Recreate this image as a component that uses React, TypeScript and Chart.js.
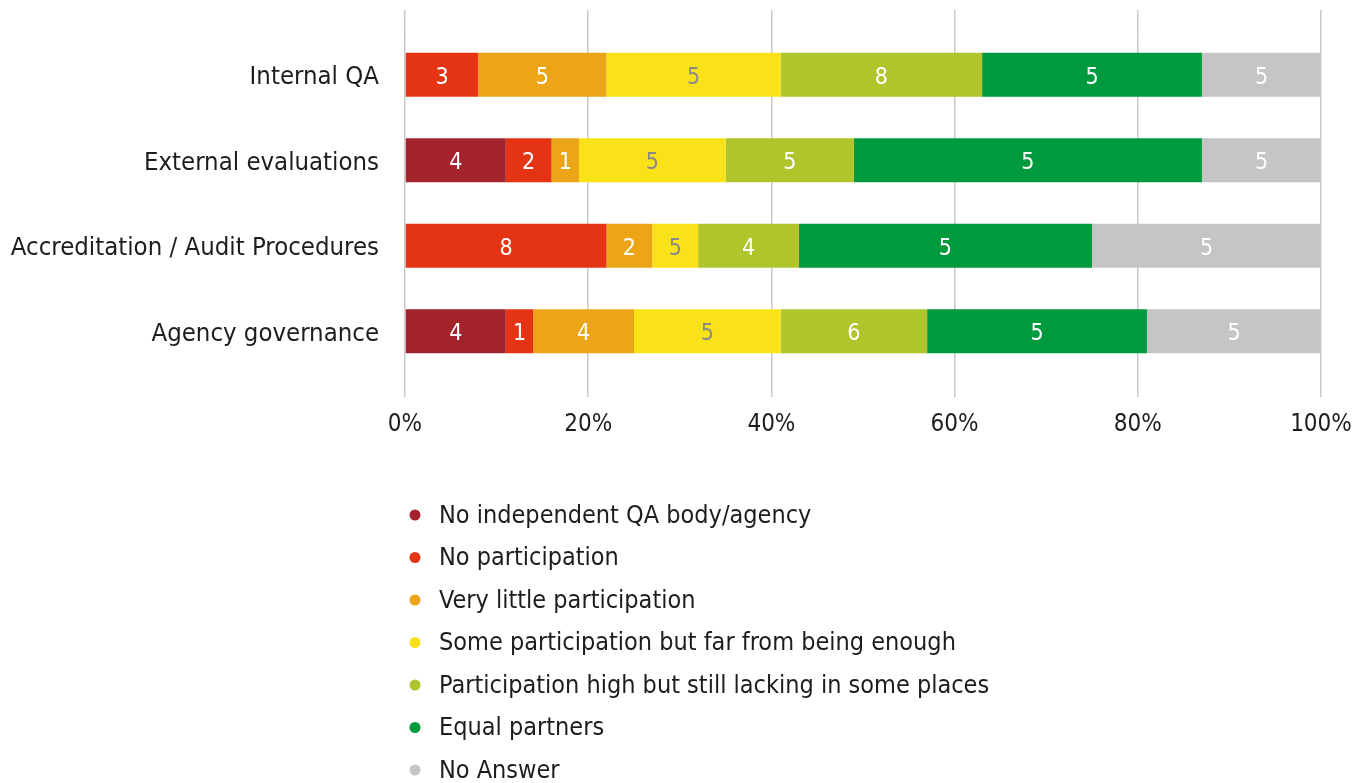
import React, { useEffect, useRef } from 'react';
import { Chart, registerables } from 'chart.js';

Chart.register(...registerables);

const categories = ['Internal QA', 'External evaluations', 'Accreditation / Audit Procedures', 'Agency governance'];

const seriesNames = [
  'No independent QA body/agency',
  'No participation',
  'Very little participation',
  'Some participation but far from being enough',
  'Participation high but still lacking in some places',
  'Equal partners',
  'No Answer',
];

// share of bar (%) per category, in category order
const noIndependent = [0, 11, 0, 11];
const noParticipation = [8, 5, 22, 3];
const veryLittle = [14, 3, 5, 11];
const someParticipation = [19, 16, 5, 16];
const highParticipation = [22, 14, 11, 16];
const equalPartners = [24, 38, 32, 24];
const noAnswer = [13, 13, 25, 19];

// numbers printed inside the segments
const noIndependentLabels = ['', '4', '', '4'];
const noParticipationLabels = ['3', '2', '8', '1'];
const veryLittleLabels = ['5', '1', '2', '4'];
const someParticipationLabels = ['5', '5', '5', '5'];
const highParticipationLabels = ['8', '5', '4', '6'];
const equalPartnersLabels = ['5', '5', '5', '5'];
const noAnswerLabels = ['5', '5', '5', '5'];

const xTicks = [0, 20, 40, 60, 80, 100];

const colors = ['#a3222b', '#e43414', '#eca517', '#f9e217', '#b0c42c', '#009a3e', '#c5c5c5'];
const labelColors = ['#ffffff', '#ffffff', '#ffffff', '#8a8a8a', '#ffffff', '#ffffff', '#ffffff'];

const FONT = "'Liberation Sans Narrow', 'DejaVu Sans Condensed', 'Liberation Sans', sans-serif";
const TEXT = '#1d1d1b';
const GRID = '#c9c9c9';
const GRID_W = 1.5;

const values = [noIndependent, noParticipation, veryLittle, someParticipation, highParticipation, equalPartners, noAnswer];
const segLabels = [
  noIndependentLabels,
  noParticipationLabels,
  veryLittleLabels,
  someParticipationLabels,
  highParticipationLabels,
  equalPartnersLabels,
  noAnswerLabels,
];

const gridTopPlugin = {
  id: 'gridTop',
  beforeDatasetsDraw(chart: any) {
    const { ctx, chartArea, scales } = chart;
    const x = scales.x;
    const half = GRID_W / 2;
    ctx.save();
    ctx.strokeStyle = GRID;
    ctx.lineWidth = GRID_W;
    xTicks.forEach((t) => {
      const px = Math.round(x.getPixelForValue(t) - half) + half;
      ctx.beginPath();
      ctx.moveTo(px, chartArea.top - 22);
      ctx.lineTo(px, chartArea.top + 1);
      ctx.stroke();
    });
    ctx.restore();
  },
};

const segmentLabelPlugin = {
  id: 'segmentLabels',
  afterDatasetsDraw(chart: any) {
    const { ctx } = chart;
    ctx.save();
    ctx.font = `23px ${FONT}`;
    ctx.textAlign = 'center';
    ctx.textBaseline = 'middle';
    chart.data.datasets.forEach((ds: any, di: number) => {
      const meta = chart.getDatasetMeta(di);
      meta.data.forEach((bar: any, i: number) => {
        const txt = ds.segLabels[i];
        if (!txt) return;
        const { x, y, base } = bar.getProps(['x', 'y', 'base'], true);
        ctx.fillStyle = ds.labelColor;
        ctx.fillText(txt, (x + base) / 2, y + 3);
      });
    });
    ctx.restore();
  },
};

const listLegendPlugin = {
  id: 'listLegend',
  afterDraw(chart: any) {
    const { ctx, chartArea } = chart;
    const left = chartArea.left + 10;
    const top = 515;
    const step = 42.5;
    ctx.save();
    ctx.font = `25px ${FONT}`;
    ctx.textAlign = 'left';
    ctx.textBaseline = 'middle';
    chart.data.datasets.forEach((ds: any, i: number) => {
      const cy = top + i * step;
      ctx.fillStyle = ds.backgroundColor;
      ctx.beginPath();
      ctx.arc(left, cy, 5.5, 0, Math.PI * 2);
      ctx.fill();
      ctx.fillStyle = TEXT;
      ctx.fillText(ds.label, left + 24, cy + 1);
    });
    ctx.restore();
  },
};

export default function App() {
  const ref = useRef<HTMLCanvasElement | null>(null);

  useEffect(() => {
    if (!ref.current) return;
    const chart = new Chart(ref.current, {
      type: 'bar',
      data: {
        labels: categories,
        datasets: seriesNames.map((name, i) => ({
          label: name,
          data: values[i],
          backgroundColor: colors[i],
          borderWidth: 0,
          segLabels: segLabels[i],
          labelColor: labelColors[i],
        })) as any,
      },
      options: {
        indexAxis: 'y',
        animation: false,
        responsive: false,
        devicePixelRatio: 1,
        layout: { padding: { top: 32, right: 35, left: 0, bottom: 0 } },
        datasets: { bar: { barPercentage: 0.516, categoryPercentage: 1 } },
        plugins: { legend: { display: false }, tooltip: { enabled: false } },
        scales: {
          x: {
            stacked: true,
            min: 0,
            max: 100,
            afterBuildTicks(scale: any) {
              scale.ticks = xTicks.map((v) => ({ value: v }));
            },
            afterFit(scale: any) {
              scale.height = 783 - 374;
              scale.paddingLeft = 0;
              scale.paddingRight = 0;
            },
            border: { display: false },
            grid: { color: GRID, lineWidth: GRID_W, drawTicks: true, tickLength: 23 },
            ticks: {
              padding: 13,
              color: TEXT,
              font: { family: FONT, size: 24 },
              callback: (v: any) => `${v}%`,
            },
          },
          y: {
            stacked: true,
            afterFit(scale: any) {
              scale.width = 405;
              scale.paddingTop = 0;
              scale.paddingBottom = 0;
            },
            border: { display: false },
            grid: { display: false, drawTicks: false },
            ticks: {
              padding: 26,
              labelOffset: 3,
              color: TEXT,
              font: { family: FONT, size: 25.5 },
            },
          },
        },
      },
      plugins: [gridTopPlugin, segmentLabelPlugin, listLegendPlugin],
    });
    return () => chart.destroy();
  }, []);

  return (
    <div style={{ position: 'absolute', left: 0, top: 0, width: 1356, height: 783, background: '#fff' }}>
      <canvas ref={ref} width={1356} height={783} style={{ display: 'block' }} />
    </div>
  );
}
